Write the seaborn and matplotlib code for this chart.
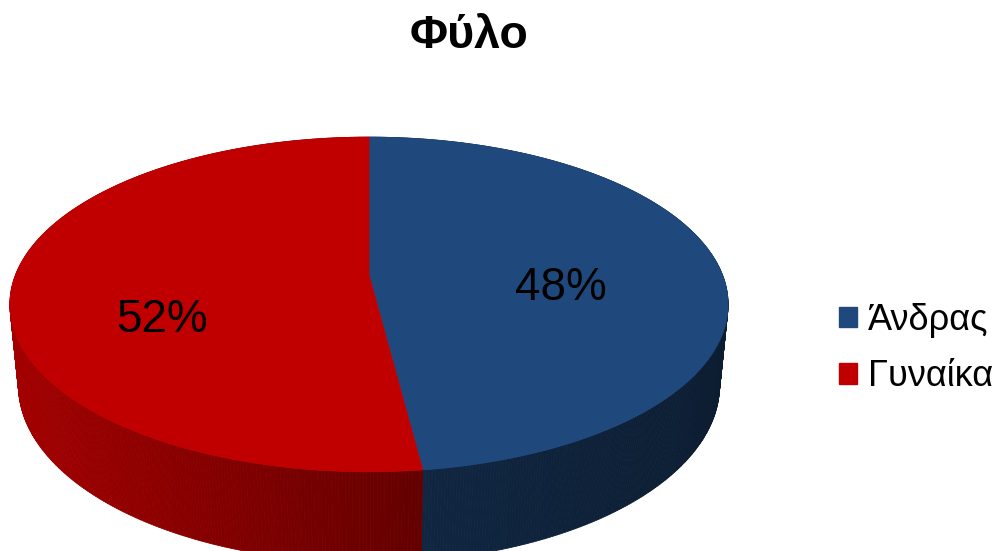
import numpy as np
import matplotlib
matplotlib.use("Agg")
import matplotlib.pyplot as plt
from matplotlib.collections import PolyCollection
from matplotlib.patches import Patch, Polygon
from matplotlib.colors import to_rgb
import seaborn as sns

# Data
categories = ["Άνδρας", "Γυναίκα"]
shares = [48, 52]
title = "Φύλο"

sns.set_theme(style="white")
plt.rcParams["font.family"] = ["Liberation Sans", "DejaVu Sans"]
plt.rcParams["text.color"] = "black"

palette = sns.color_palette(["#1F497D", "#C00000"])

W, H = 1000, 551
fig = plt.figure(figsize=(W / 100, H / 100), dpi=100)
ax = fig.add_axes([0, 0, 1, 1])
ax.set_xlim(0, W)
ax.set_ylim(H, 0)
ax.axis("off")

# Perspective camera for a unit-radius disc (screen units, y pointing down)
x0, y0 = 369.0, 275.0          # screen position of the disc centre
tilt = np.radians(27.3)        # camera elevation
sn, cs = np.sin(tilt), np.cos(tilt)
dist = 5.05                    # camera distance (in radii)
focal = 1785.0
height = 0.26                  # thickness of the disc (in radii)


def project(theta, y_up=0.0):
    """Rim point; theta in degrees clockwise from the back of the disc."""
    t = np.radians(theta)
    X, Z = np.sin(t), -np.cos(t)
    d = dist - y_up * sn - Z * cs
    return x0 + focal * X / d, y0 + focal * (Z * sn - y_up * cs) / d


def depth_of(theta):
    return dist + np.cos(np.radians(theta)) * cs


def shade(x):
    # Side walls are lit from the left
    return np.interp(x, [10, 423, 727], [0.85, 0.52, 0.40])


total = float(sum(shares))
bounds = np.concatenate([[0.0], np.cumsum(shares) / total * 360.0])

# Side wall, drawn far-to-near
strips = []
for i, col in enumerate(palette):
    base = np.array(to_rgb(col))
    th = np.linspace(bounds[i], bounds[i + 1], 400)
    for t0, t1 in zip(th[:-1], th[1:]):
        xa, ya = project(t0)
        xb, yb = project(t1)
        xc, yc = project(t1, -height)
        xd, yd = project(t0, -height)
        c = np.clip(base * shade(0.5 * (xa + xb)), 0, 1)
        strips.append((depth_of(0.5 * (t0 + t1)),
                       [(xa, ya), (xb, yb), (xc, yc), (xd, yd)], c))
strips.sort(key=lambda s: -s[0])
ax.add_collection(PolyCollection([s[1] for s in strips],
                                 facecolors=[s[2] for s in strips],
                                 edgecolors=[s[2] for s in strips],
                                 linewidths=0.6))

# Top faces
for i, col in enumerate(palette):
    th = np.linspace(bounds[i], bounds[i + 1], 400)
    xs, ys = project(th)
    poly = np.vstack([[x0, y0], np.column_stack([xs, ys])])
    ax.add_patch(Polygon(poly, closed=True, facecolor=col, edgecolor=col,
                         linewidth=0.6))

# Percentage labels
label_pos = [(561, 288), (162, 320)]
for (lx, ly), v in zip(label_pos, shares):
    ax.text(lx, ly, f"{v}%", ha="center", va="center", fontsize=33,
            color="black")

# Title
fig.text(0.469, 0.935, title, ha="center", va="center", fontsize=33.5,
         fontweight="bold", color="black")

# Legend
handles = [Patch(facecolor=c, edgecolor=c) for c in palette]
fig.legend(handles, categories, loc="center left",
           bbox_to_anchor=(0.839, 0.3675), frameon=False, fontsize=26,
           labelcolor="black", handlelength=0.5, handleheight=0.5,
           handletextpad=0.3, labelspacing=0.6, borderaxespad=0,
           borderpad=0)

fig.savefig("out.png", dpi=100)
